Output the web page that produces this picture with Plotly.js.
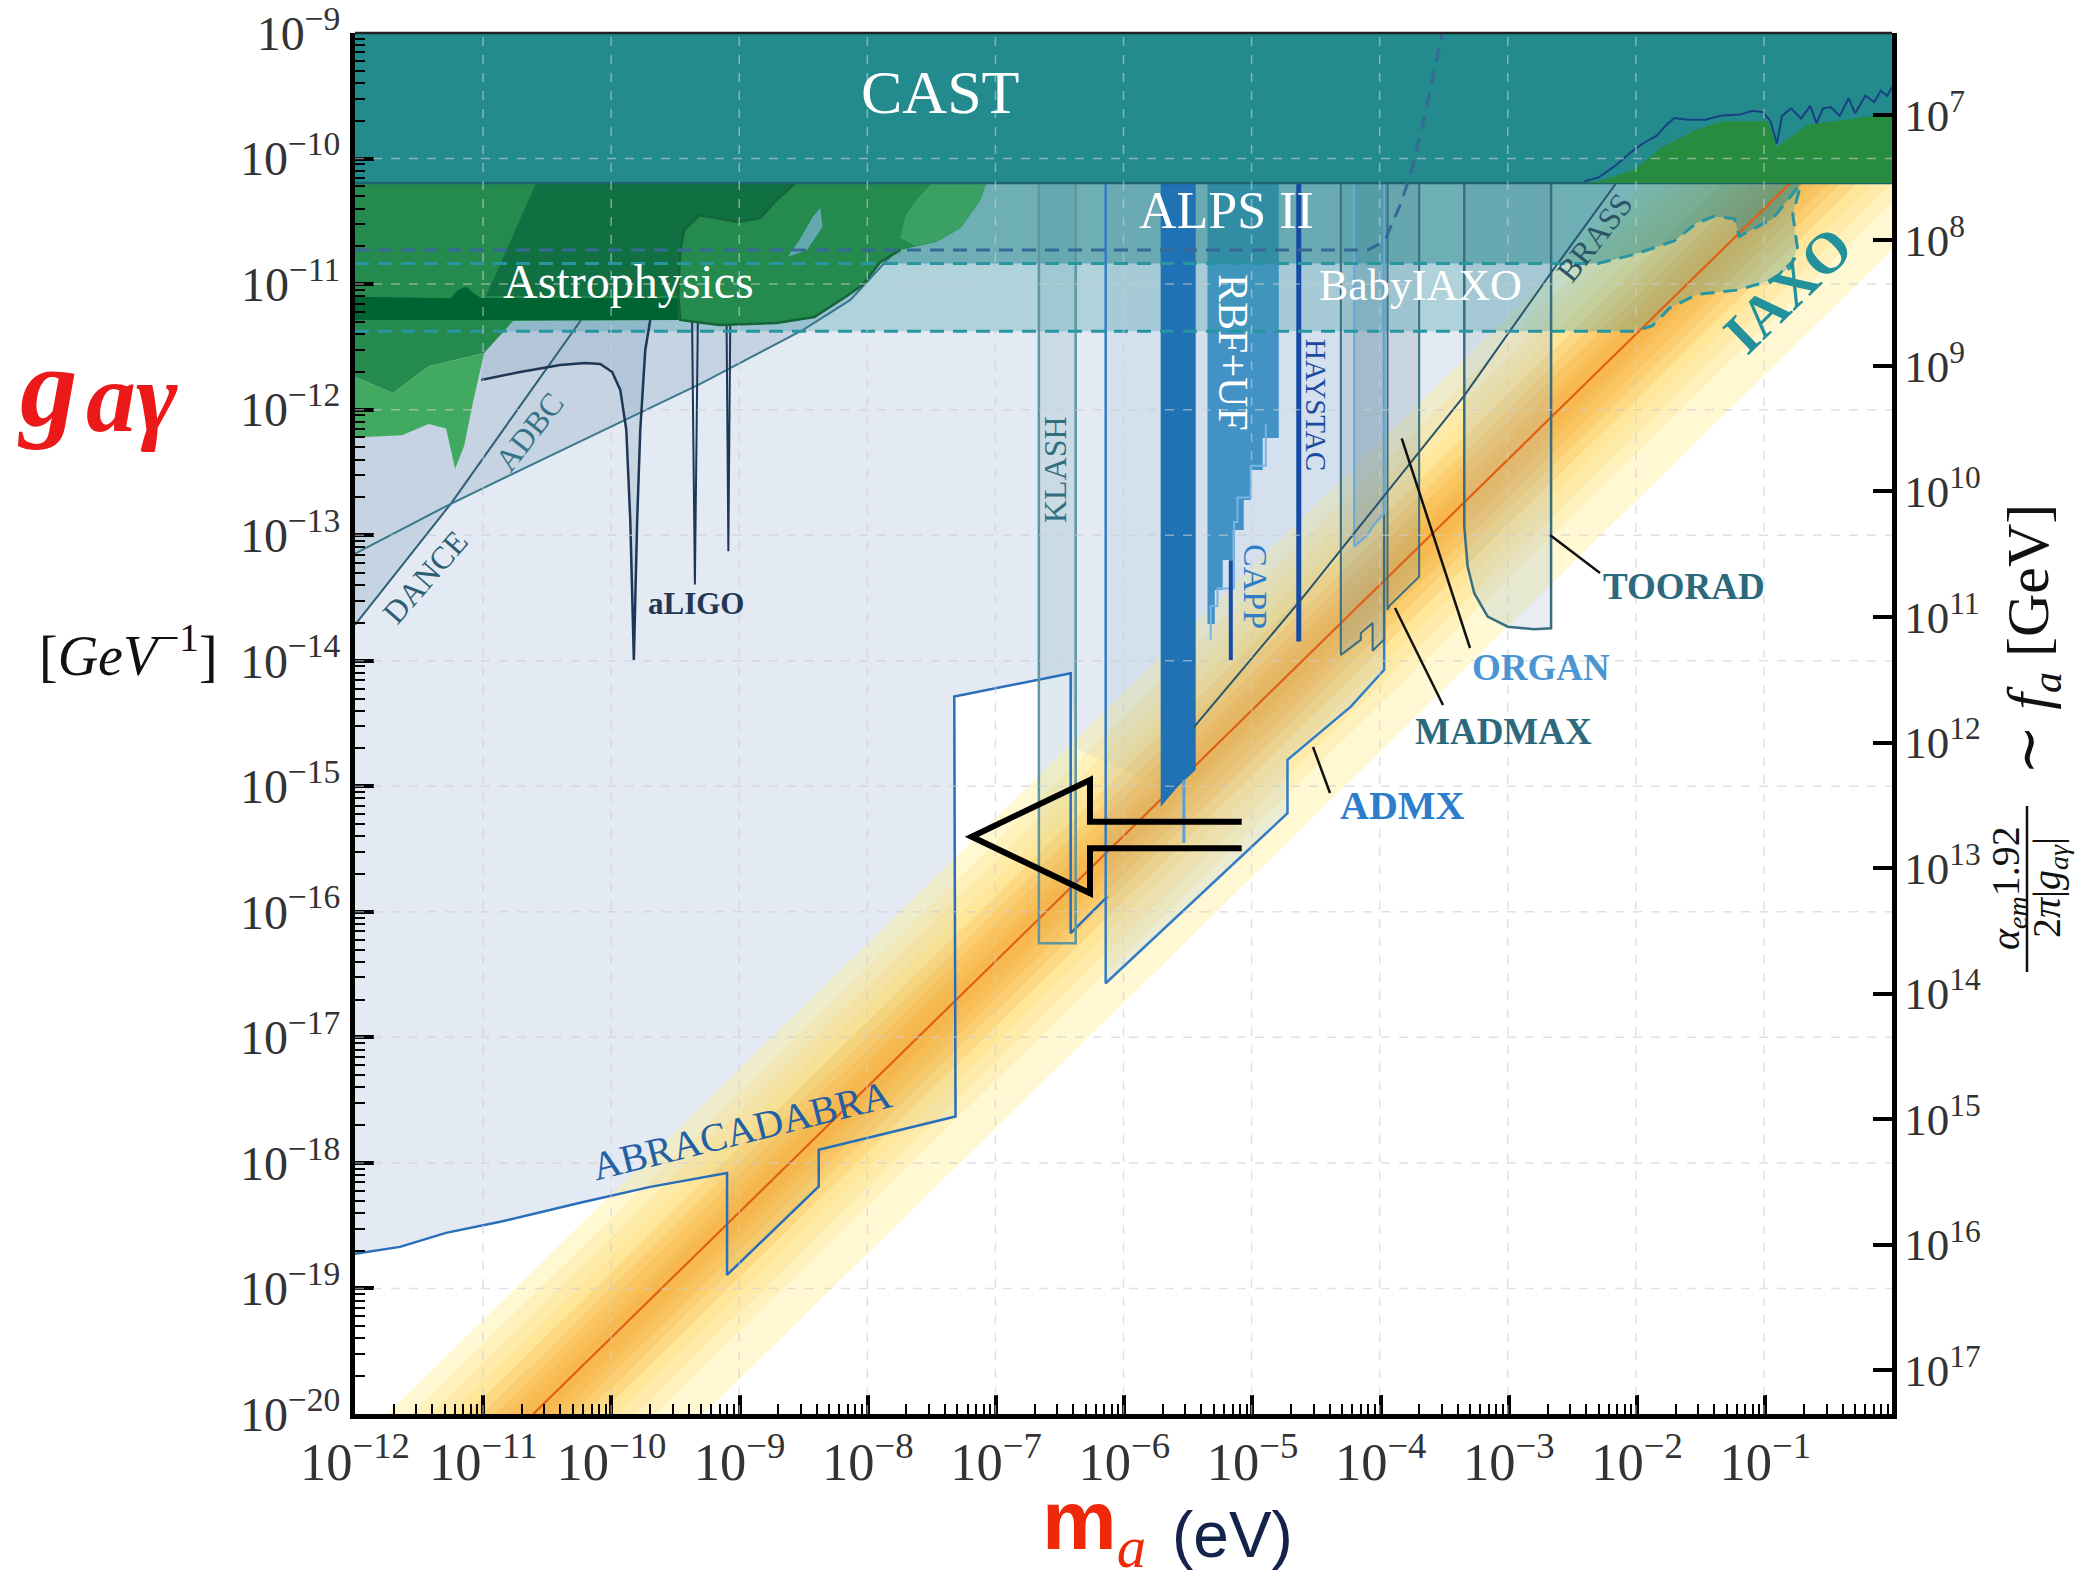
<!DOCTYPE html>
<html><head><meta charset="utf-8">
<script src="https://cdn.plot.ly/plotly-3.0.1.min.js"></script>
<style>html,body{margin:0;padding:0;background:#fff}#chart{width:2083px;height:1580px}</style>
</head><body><div id="chart"></div>
<script>
// All region vertices: log10(m_a / eV) and log10(g_agamma / GeV^-1).
const bigBlueM = [-12,-12,-11.649,-11.29,-10.868,-10.244,-9.697,-9.098,-9.098,-8.383,-8.383,-7.316,-7.326,-6.418,-6.379,-5.716,-5.458,-4.623,-3.348,-2.671,-2.141,-2.141];
const bigBlueG = [-9,-18.724,-18.669,-18.557,-18.469,-18.318,-18.191,-18.08,-18.892,-18.188,-17.896,-17.631,-14.286,-14.10,-14.7,-15.0,-14.53,-13.516,-11.888,-10.91,-10.165,-9];

const envelopeM = [-12,-12,-11.253,-10.478,-9.307,-8.505,-8.136,-7.777,-8.0,-10.8,-12];
const envelopeG = [-11.2,-13.715,-12.75,-12.368,-11.795,-11.365,-11.126,-10.728,-10.9,-11.2,-11.2];

const aligoM = [-11.016,-10.712,-10.40,-10.205,-10.087,-9.994,-9.931,-9.884,-9.853,-9.838,-9.825,-9.814,-9.799,-9.775,-9.736,-9.697];
const aligoG = [-11.764,-11.70,-11.644,-11.628,-11.636,-11.70,-11.843,-12.162,-12.879,-13.516,-13.994,-13.516,-12.879,-12.162,-11.525,-11.286];
const aligoTopM = [-9.697,-11.016];
const aligoTopG = [-11.2,-11.2];
const spike1M = [-9.371,-9.349,-9.326], spike1G = [-11.29,-13.392,-11.29];
const spike2M = [-9.102,-9.088,-9.073], spike2G = [-11.29,-13.128,-11.29];

const danceM = [-12,-11.253,-10.237], danceG = [-13.715,-12.75,-11.286];
const adbcM = [-12,-11.253,-10.478,-9.307,-8.505,-8.136,-7.777];
const adbcG = [-13.146,-12.75,-12.368,-11.795,-11.365,-11.126,-10.728];

const brassM = [-5.458,-4.623,-3.348,-2.671,-2.141];
const brassG = [-14.53,-13.516,-11.888,-10.91,-10.165];

const klashM = [-6.666,-6.666,-6.379,-6.379];
const klashG = [-10.195,-16.25,-16.25,-10.195];

const abraM = [-12,-11.649,-11.29,-10.868,-10.244,-9.697,-9.098,-9.098,-8.383,-8.383,-7.316,-7.326,-6.418,-6.418,-6.132];
const abraG = [-18.724,-18.669,-18.557,-18.469,-18.318,-18.191,-18.08,-18.892,-18.188,-17.896,-17.631,-14.286,-14.10,-16.17,-15.879];

const admxM = [-6.145,-6.145,-4.727,-4.727,-4.233,-3.973,-3.973];
const admxG = [-10.195,-16.569,-15.215,-14.79,-14.366,-14.073,-10.195];

const haloAM = [-4.311,-4.311,-4.155,-4.155,-4.063,-4.063,-3.973,-3.973];
const haloAG = [-10.195,-13.954,-13.834,-13.78,-13.70,-13.92,-13.83,-10.195];
const organM = [-4.207,-4.207,-4.103,-4.063,-3.973,-3.973];
const organG = [-10.195,-13.091,-13.0,-12.93,-12.825,-10.195];
const madmaxM = [-3.947,-3.947,-3.93,-3.70,-3.70];
const madmaxG = [-10.195,-13.595,-13.56,-13.33,-10.195];
const tooradM = [-3.348,-3.348,-3.322,-3.27,-3.166,-3.009,-2.804,-2.671,-2.671];
const tooradG = [-10.195,-12.932,-13.25,-13.462,-13.649,-13.729,-13.749,-13.741,-10.195];

const rbfBarM = [-5.716,-5.443,-5.443,-5.58,-5.716];
const rbfBarG = [-10.195,-10.195,-14.87,-15.0,-15.164];
const rbfUfM = [-5.351,-4.795,-4.795,-4.92,-4.92,-5.013,-5.013,-5.068,-5.068,-5.154,-5.154,-5.232,-5.232,-5.294,-5.294,-5.351];
const rbfUfG = [-10.195,-10.195,-12.226,-12.226,-12.48,-12.48,-12.719,-12.719,-12.958,-12.958,-13.197,-13.197,-13.436,-13.436,-13.707,-13.707];
const rbfTailM = [-5.535,-5.535], rbfTailG = [-14.949,-15.451];
const cappStepsM = [-4.896,-4.896,-5.013,-5.013,-5.117,-5.117,-5.144,-5.144,-5.273,-5.273,-5.326,-5.326];
const cappStepsG = [-12.112,-12.447,-12.447,-12.699,-12.699,-12.895,-12.895,-13.425,-13.425,-13.564,-13.564,-13.834];
const cappLineM = [-5.169,-5.169], cappLineG = [-13.2,-13.995];
const haystacM = [-4.639,-4.639], haystacG = [-10.195,-13.847];

const iaxoM = [-12,-2.023,-1.883,-1.745,-1.535,-1.222,-0.977,-0.805,-0.75,-0.786,-0.72];
const iaxoG = [-11.375,-11.376,-11.333,-11.19,-11.083,-11.048,-10.978,-10.87,-10.71,-10.444,-10.195];
const babyM = [-12,-2.305,-2.023,-1.711,-1.535,-1.399,-1.239,-1.204,-0.943,-0.72];
const babyG = [-10.835,-10.835,-10.764,-10.657,-10.513,-10.461,-10.48,-10.62,-10.48,-10.195];
const helioTopM = [-0.72,-12], helioTopG = [-10.195,-10.195];
const alpsM = [-12,-4.10,-3.97,-3.84,-3.76,-3.645,-3.52];
const alpsG = [-10.728,-10.728,-10.66,-10.35,-10.10,-9.61,-9.0];

const astroMidM = [-12,-7.082,-7.121,-7.277,-7.472,-7.746,-7.902,-8.042,-8.175,-8.417,-8.713,-9.158,-9.463,-10.767,-10.993,-11.422,-11.703,-12];
const astroMidG = [-10.195,-10.195,-10.33,-10.553,-10.665,-10.728,-10.824,-11.007,-11.103,-11.262,-11.31,-11.326,-11.286,-11.294,-11.549,-11.652,-11.867,-11.74];
const astroLightM = [-12,-11.703,-11.422,-10.993,-11.079,-11.149,-11.219,-11.29,-11.425,-11.635,-12];
const astroLightG = [-11.74,-11.867,-11.652,-11.549,-11.937,-12.289,-12.471,-12.151,-12.114,-12.204,-12.222];
const astroDarkM = [-10.587,-8.565,-8.713,-8.838,-9.01,-9.315,-9.432,-9.463,-9.479,-10.977];
const astroDarkG = [-10.195,-10.195,-10.33,-10.473,-10.505,-10.45,-10.569,-10.728,-11.095,-11.095];
const astroBandM = [-12,-11.253,-11.196,-11.133,-11.074,-11.016,-9.479,-9.479,-12];
const astroBandG = [-11.10,-11.113,-11.047,-11.02,-11.073,-11.11,-11.11,-11.286,-11.286];
const astroPaleM = [-7.496,-7.074,-7.121,-7.277,-7.433,-7.628,-7.746,-7.706,-7.589];
const astroPaleG = [-10.195,-10.195,-10.33,-10.553,-10.649,-10.696,-10.633,-10.45,-10.29];
const astroHoleM = [-8.37,-8.354,-8.475,-8.624,-8.534,-8.429];
const astroHoleG = [-10.394,-10.545,-10.728,-10.782,-10.649,-10.463];
const blobEdgeM = [-8.565,-8.713,-8.838,-9.01,-9.315,-9.432,-9.463,-9.479,-9.463,-9.158,-8.713,-8.417,-8.175,-8.042,-7.902,-7.746];
const blobEdgeG = [-10.195,-10.33,-10.473,-10.505,-10.45,-10.569,-10.728,-11.095,-11.286,-11.326,-11.31,-11.262,-11.103,-11.007,-10.824,-10.728];

const castM = [-12,0,0,-12], castG = [-10.195,-10.195,-8.9,-8.9];
const hbStarsM = [-2.41,-2.30,-2.02,-1.81,-1.54,-1.33,-0.98,-0.91,-0.67,-0.14,0,0];
const hbStarsG = [-10.195,-10.18,-10.09,-9.91,-9.77,-9.70,-9.70,-9.91,-9.73,-9.66,-9.63,-10.195];
const castHighM = [-2.41,-2.3,-2.16,-2.05,-1.95,-1.85,-1.78,-1.71,-1.6,-1.47,-1.35,-1.2,-1.1,-1.02,-0.96,-0.91,-0.87,-0.8,-0.72,-0.65,-0.6,-0.55,-0.49,-0.42,-0.35,-0.3,-0.22,-0.15,-0.1,-0.05,0];
const castHighG = [-10.18,-10.15,-10.05,-9.95,-9.876,-9.82,-9.74,-9.677,-9.69,-9.69,-9.66,-9.65,-9.62,-9.63,-9.7,-9.88,-9.66,-9.6,-9.68,-9.58,-9.72,-9.6,-9.59,-9.66,-9.52,-9.64,-9.5,-9.55,-9.46,-9.5,-9.41];

// QCD axion band: outer band corners and graded inner bands around the KSVZ line
const bandM = [-12,0,0,-12];
const bandOuterG = [-20.25,-8.25,-10.72,-22.72];
const bandYellowG = [
  [-20.44,-8.44,-10.34,-22.34],
  [-20.59,-8.59,-10.19,-22.19],
  [-20.74,-8.74,-10.04,-22.04]
];
const bandOrangeG = [
  [-20.87,-8.87,-9.91,-21.91],
  [-20.99,-8.99,-9.79,-21.79],
  [-21.09,-9.09,-9.69,-21.69],
  [-21.19,-9.19,-9.59,-21.59],
  [-21.27,-9.27,-9.51,-21.51]
];
const ksvzM = [-10.61,-0.805], ksvzG = [-20,-10.195];

// tick labels of the coupling axis
const gTickExp = [-20,-19,-18,-17,-16,-15,-14,-13,-12,-11,-10,-9];
// right axis: f_a = alpha_em*1.92/(2*pi*|g|)
const faRange = [17.3483, 6.3483];

const SERIF = '"Liberation Serif", "DejaVu Serif", serif';
const SANS = '"Liberation Sans", Arial, sans-serif';
const p10 = v => Math.pow(10, v);
const traces = [];
function poly(m, g, fill, line) {
  traces.push({type:'scatter', mode:'lines', x:m.map(p10), y:g.map(p10), fill:'toself',
    fillcolor:fill, line: line || {width:0, color:'rgba(0,0,0,0)'}, hoverinfo:'skip'});
}
function path(m, g, color, width, dash) {
  traces.push({type:'scatter', mode:'lines', x:m.map(p10), y:g.map(p10),
    line:{color:color, width:width, dash:dash||'solid'}, hoverinfo:'skip'});
}

poly(bigBlueM, bigBlueG, 'rgb(227,234,243)');
poly(envelopeM, envelopeG, 'rgba(140,170,195,0.35)');
poly(aligoM.concat(aligoTopM), aligoG.concat(aligoTopG), 'rgba(140,170,195,0.3)');
poly(klashM, klashG, 'rgba(150,185,200,0.3)');
poly(bandM, bandOuterG, 'rgba(255,238,150,0.42)');
bandYellowG.forEach(g => poly(bandM, g, 'rgba(255,208,85,0.18)'));
bandOrangeG.forEach(g => poly(bandM, g, 'rgba(245,165,45,0.2)'));
poly(admxM, admxG, 'rgba(130,170,205,0.15)');
poly(haloAM, haloAG, 'rgba(110,145,165,0.22)');
poly(organM, organG, 'rgba(100,135,160,0.28)');
poly(madmaxM, madmaxG, 'rgba(110,145,165,0.22)');
poly(tooradM, tooradG, 'rgba(160,185,200,0.25)');
poly(rbfUfM, rbfUfG, 'rgb(66,146,198)');
path(cappStepsM, cappStepsG, 'rgb(120,180,225)', 2);
poly(iaxoM.concat(helioTopM), iaxoG.concat(helioTopG), 'rgba(60,155,165,0.30)');
poly(babyM.concat(helioTopM), babyG.concat(helioTopG), 'rgba(30,130,135,0.45)');
path(ksvzM, ksvzG, 'rgb(225,95,20)', 2.2);
poly(rbfBarM, rbfBarG, 'rgb(33,113,181)');
path(rbfTailM, rbfTailG, 'rgb(90,160,215)', 3);
path(cappLineM, cappLineG, 'rgb(20,75,165)', 4);
path(haystacM, haystacG, 'rgb(20,75,165)', 5);
path(abraM, abraG, 'rgb(40,110,185)', 2.5);
path(klashM, klashG, 'rgb(95,150,160)', 2.5);
path(admxM, admxG, 'rgb(50,125,200)', 2.5);
path(haloAM, haloAG, 'rgb(55,110,130)', 2);
path(organM, organG, 'rgb(100,170,220)', 2);
path(madmaxM, madmaxG, 'rgb(55,110,130)', 2);
path(tooradM, tooradG, 'rgb(55,110,130)', 2.5);
path(danceM, danceG, 'rgb(45,95,120)', 2);
path(adbcM, adbcG, 'rgb(55,120,140)', 2);
path(aligoM, aligoG, 'rgb(30,55,85)', 2.5);
path(spike1M, spike1G, 'rgb(30,55,85)', 2);
path(spike2M, spike2G, 'rgb(30,55,85)', 2);
path(brassM, brassG, 'rgb(40,85,110)', 2);
poly(astroMidM, astroMidG, 'rgb(36,138,78)');
poly(astroLightM, astroLightG, 'rgb(66,170,96)');
poly(astroDarkM, astroDarkG, 'rgb(16,112,66)');
poly(astroBandM, astroBandG, 'rgb(0,100,50)');
poly(astroPaleM, astroPaleG, 'rgb(58,160,100)');
poly(astroHoleM, astroHoleG, 'rgb(100,168,178)');
path(blobEdgeM, blobEdgeG, 'rgb(20,100,55)', 2.5);
poly(castM, castG, 'rgb(35,139,141)', {width:2.5, color:'rgb(25,100,110)'});
poly(hbStarsM, hbStarsG, 'rgb(40,140,64)');
path(castHighM, castHighG, 'rgb(25,65,130)', 2);
path(alpsM, alpsG, 'rgb(55,105,150)', 3, '14px,9px');
path(babyM, babyG, 'rgb(40,150,160)', 3, '14px,9px');
path(iaxoM, iaxoG, 'rgb(40,150,160)', 3, '14px,9px');
// dummy trace for the f_a axis
traces.push({type:'scatter', mode:'markers', x:[1e-6], y:[1e10], yaxis:'y2', marker:{opacity:0}, hoverinfo:'skip'});

// layout helpers (pixel -> paper)
const PL = 355, PT = 33, PW = 1537, PH = 1381;
const px = fx => (fx - PL) / PW;
const py = fy => (PT + PH - fy) / PH;
function A(text, fx, fy, size, color, angle, family) {
  return {text:text, xref:'paper', yref:'paper', x:px(fx), y:py(fy), showarrow:false,
    xanchor:'center', yanchor:'middle', textangle:angle||0,
    font:{family:family||SERIF, size:size, color:color}};
}
const annotations = [
  A('CAST', 940, 92, 62, '#ffffff'),
  A('ALPS II', 1226, 210, 52, '#ffffff'),
  A('Astrophysics', 628, 281, 48, '#ffffff'),
  A('BabyIAXO', 1420, 285, 44, '#ffffff'),
  A('RBF+UF', 1233, 352, 42, '#ffffff', 90),
  A('KLASH', 1055, 470, 32, 'rgb(50,110,125)', -90),
  A('HAYSTAC', 1316, 405, 29, 'rgb(25,75,160)', 90),
  A('CAPP', 1256, 586, 34, 'rgb(45,125,200)', 90),
  A('BRASS', 1594, 238, 32, 'rgb(45,85,105)', -52),
  A('<b>IAXO</b>', 1787, 290, 58, 'rgb(35,145,155)', -44),
  A('<b>TOORAD</b>', 1684, 586, 37, 'rgb(45,105,125)'),
  A('<b>ORGAN</b>', 1541, 667, 37, 'rgb(75,150,210)'),
  A('<b>MADMAX</b>', 1503, 731, 37, 'rgb(45,105,125)'),
  A('<b>ADMX</b>', 1402, 805, 40, 'rgb(45,125,205)'),
  A('<b>aLIGO</b>', 696, 604, 31, 'rgb(35,55,85)'),
  A('DANCE', 425, 577, 32, 'rgb(45,95,115)', -49),
  A('ADBC', 529, 432, 32, 'rgb(55,115,135)', -52),
  A('ABRACADABRA', 741, 1130, 40, 'rgb(35,95,165)', -14),
  // axis titles
  A('<b><i>g</i></b>', 47, 388, 115, 'rgb(235,25,25)'),
  A('<b><i>aγ</i></b>', 132, 397, 100, 'rgb(235,25,25)'),
  A('[<i>GeV</i><sup>−1</sup>]', 128, 651, 56, '#111'),
  A('<b>m</b><sub><span style="font-family:\'Liberation Serif\';font-weight:normal"><i>a</i></span></sub>', 1094, 1526, 84, 'rgb(240,40,10)', 0, SANS),
  A('(eV)', 1232, 1535, 64, 'rgb(20,35,75)', 0, SANS),
  A('<i>α<sub>em</sub></i>1.92', 2008, 888, 40, '#111', -90),
  A('2<i>π</i>|<i>g<sub>aγ</sub></i>|', 2049, 888, 40, '#111', -90),
  A('∼ <i>f<sub>a</sub></i> [GeV]', 2032, 640, 60, '#111', -90)
];

const shapes = [];
const gridStyle = {color:'rgba(205,205,210,0.6)', width:1.5, dash:'dash'};
for (let k = 1; k < 12; k++) shapes.push({type:'line', xref:'paper', yref:'paper', x0:k/12, x1:k/12, y0:0, y1:1, line:gridStyle, layer:'above'});
for (let k = 1; k < 11; k++) shapes.push({type:'line', xref:'paper', yref:'paper', x0:0, x1:1, y0:k/11, y1:k/11, line:gridStyle, layer:'above'});
shapes.push({type:'line', xref:'paper', yref:'paper', x0:0, x1:1, y0:1, y1:1, line:{color:'#222', width:2.5}, layer:'above'});
const arrowPx = [[1241.7,821.7],[1090,821.7],[1090,780],[971.7,836.7],[1090,893.3],[1090,848.3],[1241.7,848.3]];
shapes.push({type:'path', xref:'paper', yref:'paper', layer:'above', fillcolor:'rgba(0,0,0,0)',
  path:'M ' + arrowPx.map(p => px(p[0]).toFixed(5) + ',' + py(p[1]).toFixed(5)).join(' L '),
  line:{color:'#000', width:6}});
const leaders = [[1313,747,1330,793],[1395,608,1443,705],[1401.7,438.3,1470,648],[1550,535,1600,573]];
leaders.forEach(l => shapes.push({type:'line', xref:'paper', yref:'paper', x0:px(l[0]), y0:py(l[1]), x1:px(l[2]), y1:py(l[3]), line:{color:'#111', width:2.5}, layer:'above'}));
shapes.push({type:'line', xref:'paper', yref:'paper', x0:px(2027), x1:px(2027), y0:py(806), y1:py(972), line:{color:'#111', width:2.5}});

// minor tick positions of the coupling axis (2..9 within each decade)
const gMinor = [];
gTickExp.slice(0, -1).forEach(e => { for (let d = 2; d < 10; d++) gMinor.push(d * p10(e)); });

const tickFont = {family:SERIF, size:42, color:'#333'};
const common = {type:'log', autorange:false, showgrid:false, zeroline:false, showline:true,
  linecolor:'#000', linewidth:5, ticks:'inside', ticklen:19, tickwidth:4, tickcolor:'#000',
  exponentformat:'power', showexponent:'all', tickfont:tickFont, layer:'above traces',
  ticklabeloverflow:'allow'};
const layout = {
  width:2083, height:1580, margin:{l:PL, r:2083-PL-PW, t:PT, b:1580-PT-PH, pad:0},
  paper_bgcolor:'#fff', plot_bgcolor:'#fff', showlegend:false, hovermode:false,
  font:{family:SERIF},
  xaxis:Object.assign({}, common, {range:[-12,-0.012], tickmode:'linear', tick0:0, dtick:1,
    minor:{ticks:'inside', ticklen:10, tickwidth:2, tickcolor:'#000', showgrid:false, dtick:'D1'}}),
  yaxis:Object.assign({}, common, {range:[-20,-9], tickmode:'array',
    tickvals:gTickExp.map(p10), ticktext:gTickExp.map(e => '10<sup>−' + (-e) + '</sup>'),
    tickfont:{family:SERIF, size:48, color:'#333'},
    minor:{ticks:'inside', ticklen:10, tickwidth:2, tickcolor:'#000', showgrid:false, tickmode:'array', tickvals:gMinor}}),
  yaxis2:Object.assign({}, common, {overlaying:'y', side:'right', range:faRange,
    tickmode:'linear', tick0:0, dtick:1, tickfont:{family:SERIF, size:36, color:'#333'}}),
  annotations:annotations, shapes:shapes
};
Plotly.newPlot('chart', traces, layout, {displayModeBar:false, staticPlot:true});
</script>
</body></html>
